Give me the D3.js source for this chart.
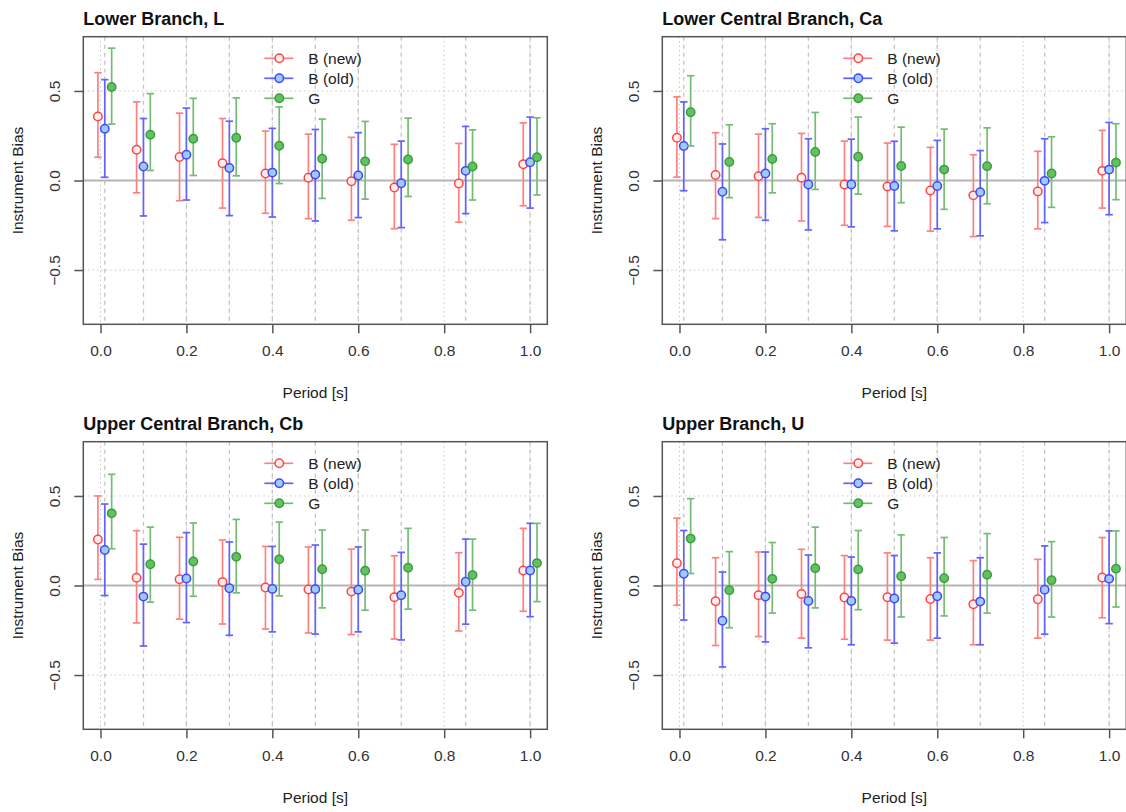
<!DOCTYPE html>
<html>
<head>
<meta charset="utf-8">
<script src="https://cdn.jsdelivr.net/npm/d3@7"></script>
<style>
  body { margin: 0; background: #fff; }
  svg { display: block; font-family: "Liberation Sans", Arial, sans-serif; }
</style>
</head>
<body>
<svg id="chart" width="1126" height="812"></svg>
<script>
// periods [s] and x offset of each series around the period
const periods = [0.01, 0.1, 0.2, 0.3, 0.4, 0.5, 0.6, 0.7, 0.85, 1.0];
const xTicks = [0, 0.2, 0.4, 0.6, 0.8, 1.0];
const yTicks = [-0.5, 0, 0.5];
const seriesNames = ['B (new)', 'B (old)', 'G'];
const seriesShift = [-0.016, 0, 0.016];
const panelTitles = ['Lower Branch, L', 'Lower Central Branch, Ca', 'Upper Central Branch, Cb', 'Upper Branch, U'];

// [bias, lower, upper] per period
const L_new = [[0.357,0.130,0.602],[0.172,-0.069,0.439],[0.131,-0.113,0.376],[0.096,-0.154,0.346],[0.039,-0.183,0.276],[0.015,-0.213,0.259],[-0.004,-0.222,0.241],[-0.039,-0.269,0.202],[-0.017,-0.233,0.207],[0.091,-0.141,0.322]];
const L_old = [[0.289,0.018,0.563],[0.078,-0.198,0.346],[0.144,-0.109,0.404],[0.070,-0.196,0.331],[0.044,-0.204,0.291],[0.033,-0.226,0.285],[0.028,-0.207,0.267],[-0.015,-0.263,0.220],[0.054,-0.185,0.302],[0.102,-0.154,0.354]];
const L_G   = [[0.522,0.315,0.739],[0.256,0.056,0.485],[0.233,0.028,0.459],[0.239,0.026,0.461],[0.194,-0.017,0.411],[0.122,-0.100,0.343],[0.107,-0.104,0.330],[0.117,-0.089,0.348],[0.078,-0.109,0.283],[0.130,-0.081,0.350]];

const Ca_new = [[0.239,0.019,0.467],[0.031,-0.213,0.267],[0.024,-0.206,0.259],[0.015,-0.226,0.263],[-0.022,-0.250,0.220],[-0.033,-0.256,0.209],[-0.056,-0.283,0.185],[-0.083,-0.313,0.144],[-0.061,-0.270,0.163],[0.054,-0.154,0.280]];
const Ca_old = [[0.193,-0.057,0.439],[-0.063,-0.331,0.204],[0.039,-0.222,0.289],[-0.022,-0.276,0.233],[-0.022,-0.259,0.231],[-0.031,-0.281,0.219],[-0.031,-0.270,0.224],[-0.065,-0.309,0.167],[-0.002,-0.235,0.233],[0.061,-0.191,0.324]];
const Ca_G   = [[0.381,0.193,0.585],[0.104,-0.096,0.311],[0.120,-0.069,0.317],[0.159,-0.050,0.380],[0.133,-0.076,0.354],[0.081,-0.124,0.298],[0.061,-0.161,0.287],[0.080,-0.130,0.294],[0.039,-0.150,0.244],[0.100,-0.107,0.317]];

const Cb_new = [[0.257,0.034,0.500],[0.043,-0.209,0.306],[0.035,-0.188,0.269],[0.019,-0.215,0.254],[-0.011,-0.243,0.218],[-0.022,-0.265,0.215],[-0.034,-0.274,0.203],[-0.065,-0.299,0.166],[-0.041,-0.254,0.183],[0.084,-0.144,0.319]];
const Cb_old = [[0.198,-0.056,0.455],[-0.062,-0.338,0.231],[0.039,-0.207,0.295],[-0.015,-0.278,0.243],[-0.019,-0.259,0.218],[-0.021,-0.271,0.226],[-0.024,-0.259,0.215],[-0.054,-0.304,0.185],[0.021,-0.216,0.259],[0.084,-0.174,0.347]];
const Cb_G   = [[0.403,0.205,0.621],[0.119,-0.093,0.326],[0.134,-0.060,0.349],[0.160,-0.041,0.369],[0.146,-0.058,0.354],[0.091,-0.125,0.310],[0.082,-0.138,0.310],[0.099,-0.132,0.319],[0.058,-0.138,0.259],[0.125,-0.090,0.347]];

const U_new = [[0.124,-0.110,0.376],[-0.088,-0.335,0.155],[-0.054,-0.285,0.187],[-0.047,-0.294,0.202],[-0.067,-0.300,0.167],[-0.066,-0.305,0.182],[-0.075,-0.305,0.155],[-0.105,-0.331,0.139],[-0.077,-0.294,0.146],[0.045,-0.180,0.268]];
const U_old = [[0.066,-0.193,0.307],[-0.197,-0.455,0.075],[-0.062,-0.315,0.187],[-0.086,-0.348,0.170],[-0.086,-0.331,0.159],[-0.073,-0.322,0.167],[-0.060,-0.294,0.182],[-0.090,-0.331,0.155],[-0.024,-0.272,0.221],[0.037,-0.213,0.305]];
const U_G   = [[0.262,0.067,0.485],[-0.026,-0.236,0.189],[0.037,-0.154,0.240],[0.097,-0.125,0.326],[0.090,-0.135,0.307],[0.052,-0.176,0.283],[0.041,-0.170,0.268],[0.060,-0.154,0.290],[0.030,-0.176,0.245],[0.094,-0.120,0.305]];

const panelData = [[L_new, L_old, L_G], [Ca_new, Ca_old, Ca_G], [Cb_new, Cb_old, Cb_G], [U_new, U_old, U_G]];

const barColor = ['#ff8080', '#6262ff', '#74bc74'];
const ptStroke = ['#ff4444', '#4444ff', '#3c9c3c'];
const ptFill = ['#fff0f0', '#9ccbf5', '#62c262'];

const svg = d3.select('#chart');
const boxW = 464, boxH = 287.6;
const boxLeft = [83.3, 662.3];
const boxTop = [36.7, 441.7];

const x = d3.scaleLinear().domain([-0.04, 1.04]).range([0, boxW]);
const y = d3.scaleLinear().domain([-0.803, 0.803]).range([boxH, 0]);

panelData.forEach((series, p) => {
  const g = svg.append('g')
    .attr('transform', `translate(${boxLeft[p % 2]},${boxTop[Math.floor(p / 2)]})`);

  // grid at ticks (dotted)
  g.selectAll('.gx').data(xTicks).join('line')
    .attr('x1', d => x(d)).attr('x2', d => x(d))
    .attr('y1', 0).attr('y2', boxH)
    .attr('stroke', '#c8c8c8').attr('stroke-dasharray', '1.5,3');
  g.selectAll('.gy').data(yTicks).join('line')
    .attr('x1', 0).attr('x2', boxW)
    .attr('y1', d => y(d)).attr('y2', d => y(d))
    .attr('stroke', '#c8c8c8').attr('stroke-dasharray', '1.5,3');

  // dashed lines at each period
  g.selectAll('.gp').data(periods).join('line')
    .attr('x1', d => x(d)).attr('x2', d => x(d))
    .attr('y1', 0).attr('y2', boxH)
    .attr('stroke', '#c4c4c4').attr('stroke-width', 1.3).attr('stroke-dasharray', '4,4');

  // zero line
  g.append('line')
    .attr('x1', 0).attr('x2', boxW).attr('y1', y(0)).attr('y2', y(0))
    .attr('stroke', '#b5b5b5').attr('stroke-width', 1.8);

  // error bars and points
  series.forEach((vals, s) => {
    const sg = g.append('g');
    const px = i => x(periods[i] + seriesShift[s]);
    sg.selectAll('.bar').data(vals).join('line')
      .attr('x1', (d, i) => px(i)).attr('x2', (d, i) => px(i))
      .attr('y1', d => y(d[1])).attr('y2', d => y(d[2]))
      .attr('stroke', barColor[s]).attr('stroke-width', 1.7);
    ['lo', 'hi'].forEach((k, j) => {
      sg.selectAll('.cap' + k).data(vals).join('line')
        .attr('x1', (d, i) => px(i) - 3.7).attr('x2', (d, i) => px(i) + 3.7)
        .attr('y1', d => y(d[j + 1])).attr('y2', d => y(d[j + 1]))
        .attr('stroke', barColor[s]).attr('stroke-width', 1.7);
    });
    sg.selectAll('circle').data(vals).join('circle')
      .attr('cx', (d, i) => px(i)).attr('cy', d => y(d[0]))
      .attr('r', 4.2)
      .attr('fill', ptFill[s]).attr('stroke', ptStroke[s]).attr('stroke-width', 1.5);
  });

  // legend
  const lg = g.append('g').attr('transform', 'translate(181,21.6)');
  seriesNames.forEach((name, s) => {
    const row = lg.append('g').attr('transform', `translate(0,${s * 20})`);
    row.append('line').attr('x1', 0).attr('x2', 29).attr('y1', 0).attr('y2', 0)
      .attr('stroke', barColor[s]).attr('stroke-width', 1.7);
    row.append('circle').attr('cx', 15).attr('cy', 0).attr('r', 4.2)
      .attr('fill', ptFill[s]).attr('stroke', ptStroke[s]).attr('stroke-width', 1.5);
    row.append('text').attr('x', 44).attr('y', 0).attr('dy', '0.36em')
      .style('font-size', '15.5px').attr('fill', '#222').text(name);
  });

  // box
  g.append('rect').attr('width', boxW).attr('height', boxH)
    .attr('fill', 'none').attr('stroke', '#555').attr('stroke-width', 1.5);

  // axes
  const xAxis = d3.axisBottom(x).tickValues(xTicks).tickFormat(d3.format('.1f')).tickSize(9).tickPadding(12);
  const ax = g.append('g').attr('transform', `translate(0,${boxH})`).call(xAxis);
  ax.select('.domain').remove();
  ax.selectAll('line').attr('stroke', '#555').attr('stroke-width', 1.5);
  ax.selectAll('text').style('font-size', '15.5px').attr('fill', '#333');

  const yAxis = d3.axisLeft(y).tickValues(yTicks).tickFormat(d3.format('.1f')).tickSize(9);
  const ay = g.append('g').call(yAxis);
  ay.select('.domain').remove();
  ay.selectAll('line').attr('stroke', '#555').attr('stroke-width', 1.5);
  ay.selectAll('text')
    .attr('x', 0).attr('dy', 0)
    .attr('transform', 'translate(-23.5,0) rotate(-90)')
    .attr('text-anchor', 'middle')
    .style('font-size', '15.5px').attr('fill', '#333')
    .text(d => d < 0 ? '\u22120.5' : d3.format('.1f')(d));

  // titles
  g.append('text').attr('x', 0).attr('y', -11.7)
    .style('font-size', '18px').style('font-weight', 'bold').attr('fill', '#111')
    .text(panelTitles[p]);
  g.append('text').attr('x', boxW / 2).attr('y', boxH + 74)
    .attr('text-anchor', 'middle').style('font-size', '15.5px').attr('fill', '#222')
    .text('Period [s]');
  g.append('text').attr('transform', `translate(-60,${boxH / 2}) rotate(-90)`)
    .attr('text-anchor', 'middle').style('font-size', '15.5px').attr('fill', '#222')
    .text('Instrument Bias');
});
</script>
</body>
</html>
